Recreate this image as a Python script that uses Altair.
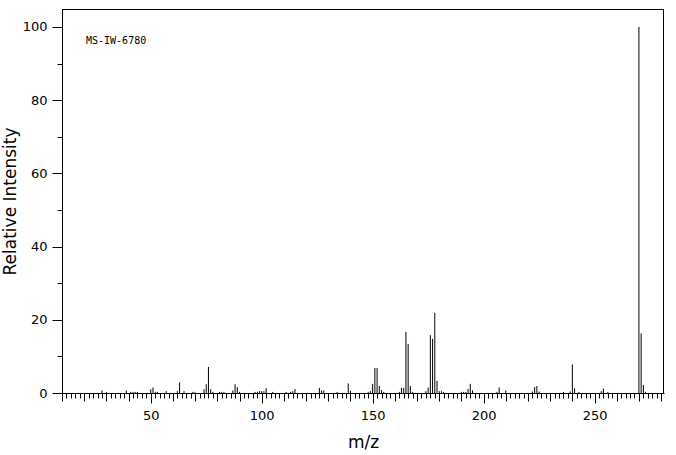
import altair as alt
import pandas as pd

mz = [28, 30, 39, 41, 42, 43, 44, 50, 51, 52, 53, 57, 62, 63, 65, 69, 70, 74, 75, 76, 77, 78,
      81, 82, 83, 87, 88, 89, 90, 97, 98, 99, 100, 101, 102, 105, 111, 113, 114, 115,
      126, 127, 128, 134, 139, 140, 148, 149, 150, 151, 152, 153, 154, 155,
      162, 163, 164, 165, 166, 167, 168, 174, 175, 176, 177, 178, 179, 180, 181, 182,
      190, 191, 192, 193, 194, 195, 206, 207, 210, 222, 223, 224, 225,
      236, 239, 240, 241, 243, 253, 254, 256, 270, 271, 272, 273]
intensity = [0.7, 0.3, 0.7, 0.3, 0.3, 0.3, 0.3, 1.0, 1.5, 0.3, 0.3, 0.5, 0.5, 2.9, 0.5, 0.3, 0.3, 1.0, 2.4, 7.1, 1.0, 0.3,
             0.3, 0.3, 0.3, 0.7, 2.4, 1.6, 0.3, 0.3, 0.3, 0.5, 0.5, 0.5, 1.3, 0.3, 0.3, 0.3, 0.5, 1.1,
             1.4, 0.7, 0.7, 0.3, 2.6, 0.6, 0.3, 0.5, 2.5, 6.8, 6.8, 1.9, 0.8, 0.3,
             0.3, 1.4, 1.4, 16.7, 13.4, 1.9, 0.3, 0.5, 1.5, 15.8, 14.8, 21.9, 3.3, 0.5, 0.5, 0.3,
             0.3, 0.3, 0.3, 1.1, 2.5, 0.7, 0.3, 1.5, 0.7, 0.4, 1.6, 1.9, 0.4,
             0.3, 0.4, 7.8, 1.3, 0.3, 0.5, 1.2, 0.3, 100.0, 16.3, 2.2, 0.3]

x_ticks = list(range(10, 282, 2))
y_ticks = list(range(0, 101, 10))
label_text = ["MS-IW-6780"]

df = pd.DataFrame({"mz": mz, "intensity": intensity})

x_scale = alt.Scale(domain=[10, 281.3], nice=False, zero=False)
y_scale = alt.Scale(domain=[0, 104.9], nice=False)

bars = alt.Chart(df).mark_rule(color="black", strokeWidth=1).encode(
    x=alt.X("mz:Q", scale=x_scale, axis=alt.Axis(
        title="m/z", values=x_ticks, grid=False,
        tickSize=alt.ExprRef(expr="datum.value % 50 === 0 ? 10 : (datum.value % 10 === 0 ? 8 : 5)"),
        labelExpr="datum.value % 50 === 0 ? datum.label : ''",
        labelFont="DejaVu Sans", labelFontSize=13, labelColor="black", labelPadding=6,
        titleFont="DejaVu Sans", titleFontSize=17, titleFontWeight="normal", titleColor="black",
        titlePadding=12, domainColor="black", tickColor="black", labelFlush=False,
    )),
    y=alt.Y("intensity:Q", scale=y_scale, axis=alt.Axis(
        title="Relative Intensity", values=y_ticks, grid=False,
        tickSize=alt.ExprRef(expr="datum.value % 20 === 0 ? 10 : 5"),
        labelExpr="datum.value % 20 === 0 ? datum.label : ''",
        labelFont="DejaVu Sans", labelFontSize=13, labelColor="black", labelPadding=5,
        titleFont="DejaVu Sans", titleFontSize=17, titleFontWeight="normal", titleColor="black",
        titlePadding=3, domainColor="black", tickColor="black", labelFlush=False,
    )),
    y2=alt.datum(0),
)

# top and right frame lines
frame_top = alt.Chart().mark_rule(color="black", strokeWidth=1).encode(
    x=alt.value(0), x2=alt.value(602), y=alt.value(0.5))
frame_right = alt.Chart().mark_rule(color="black", strokeWidth=1).encode(
    x=alt.value(601.5), y=alt.value(0), y2=alt.value(384))

label = alt.Chart(pd.DataFrame({"t": label_text})).mark_text(
    font="DejaVu Sans Mono", fontSize=10, align="left", baseline="middle", color="black"
).encode(x=alt.value(24), y=alt.value(32), text="t:N")

chart = alt.layer(bars, frame_top, frame_right, label).properties(
    width=602, height=384,
    background="white",
    autosize=alt.AutoSizeParams(type="none"),
    padding={"left": 62, "top": 9, "right": 12, "bottom": 62},
).configure_view(strokeWidth=0)

chart.save("out.html", embed_options={"renderer": "svg", "actions": False})
